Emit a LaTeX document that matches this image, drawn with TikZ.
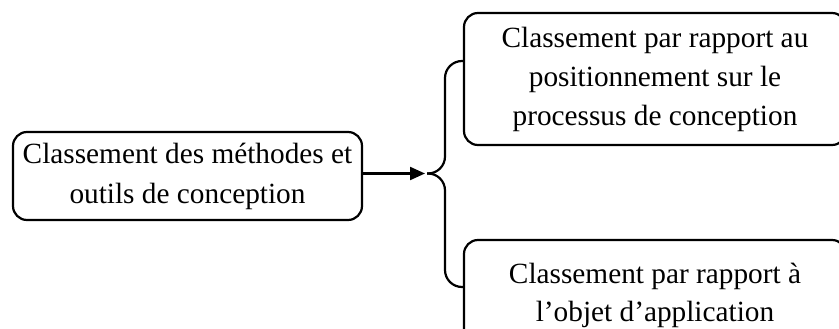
\documentclass[tikz,border=0pt]{standalone}
\usepackage{fontspec}
\setmainfont{Liberation Serif}
\usetikzlibrary{arrows.meta}
\begin{document}
\begin{tikzpicture}[x=1pt,y=-1pt,
  box/.style={draw, line width=2.2pt, rounded corners=14pt, align=center, inner sep=0pt},
  big/.style={font=\fontsize{29.3}{40}\selectfont},
  small/.style={font=\fontsize{29.3}{39}\selectfont},
  tight/.style={font=\fontsize{29.3}{38}\selectfont},
  link/.style={line width=2.2pt}]
\useasboundingbox (0,0) rectangle (839,329);
\clip (0,0) rectangle (839,329);
\node[box, big, minimum width=349pt, minimum height=88pt] (src) at (187.5,176)
  {Classement des méthodes et\\outils de conception};
\node[box, small, minimum width=382pt, minimum height=132pt] (pos) at (655,79)
  {Classement par rapport au\\positionnement sur le\\processus de conception};
\node[box, tight, minimum width=382pt, minimum height=110pt] (obj) at (655,295)
  {Classement par rapport à\\l’objet d’application};
\coordinate (tip) at (427,173.5);
\coordinate (mid) at (445,173.5);
\coordinate (bt) at (pos.west |- 0,61);
\coordinate (bb) at (obj.west |- 0,287);
\draw[link, -{Triangle[length=15pt,width=13pt]}, shorten >=2pt] (src.east |- tip) -- (tip);
\draw[link, rounded corners=17pt] (tip) -- (mid) -- (mid |- bt) -- (bt);
\draw[link, rounded corners=17pt] (tip) -- (mid) -- (mid |- bb) -- (bb);
\end{tikzpicture}
\end{document}
